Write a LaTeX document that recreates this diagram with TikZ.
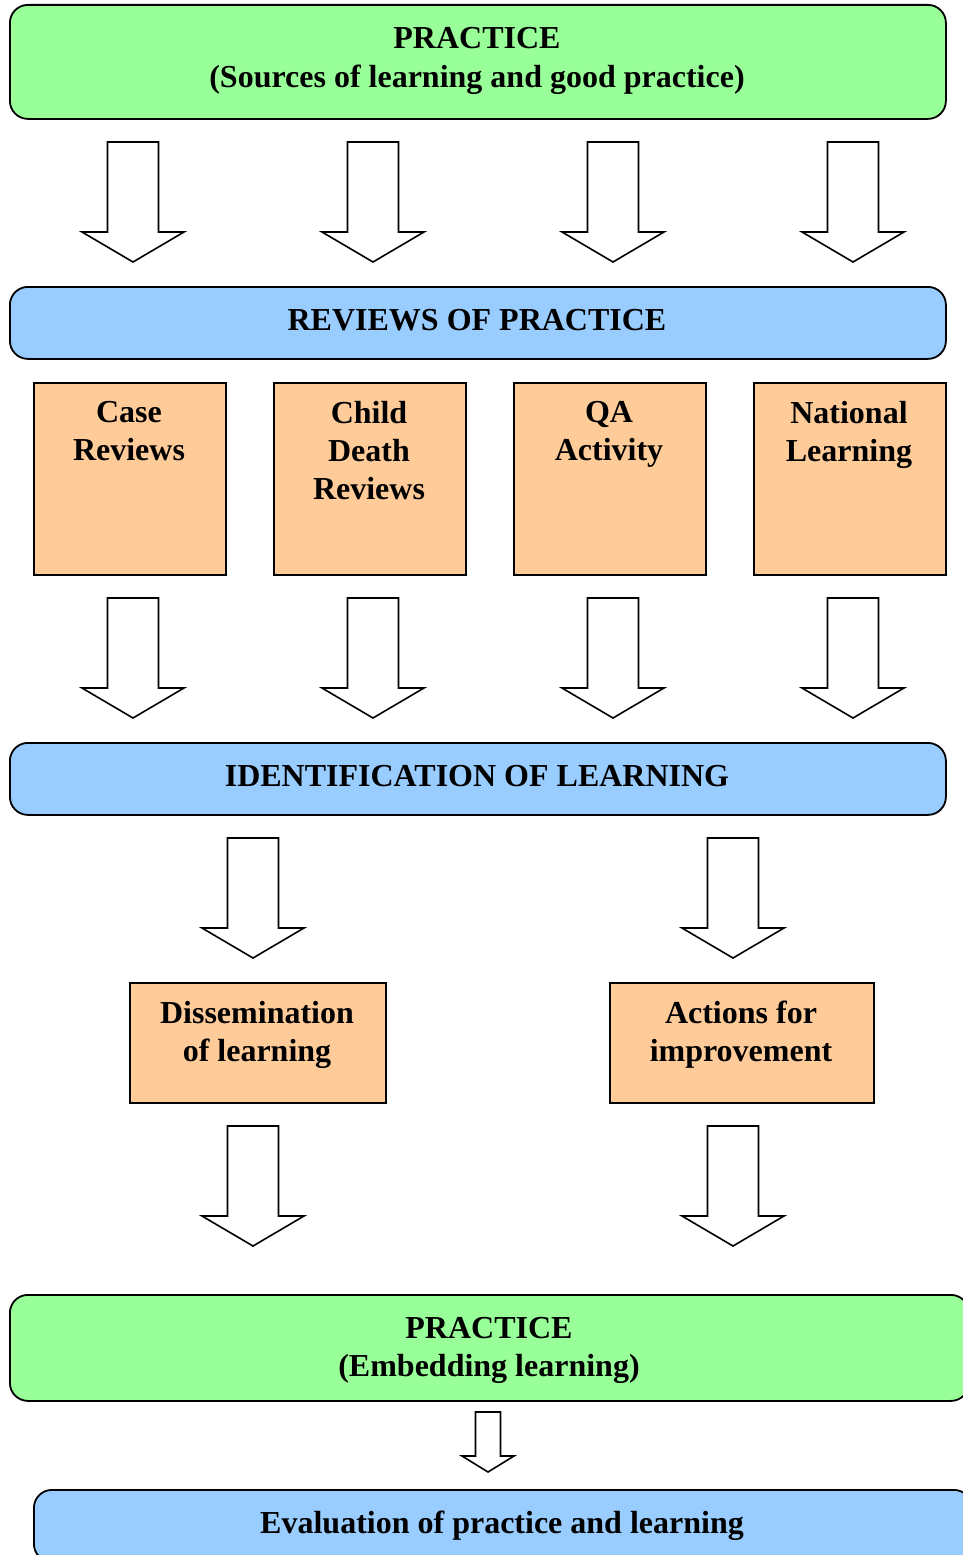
\documentclass[tikz,border=0pt]{standalone}
\usepackage{fontspec}
\setmainfont{Liberation Serif}
\definecolor{pgreen}{HTML}{99FF99}
\definecolor{pblue}{HTML}{99CCFF}
\definecolor{porange}{HTML}{FFCC99}
\tikzset{
  rbox/.style={draw=black, line width=1.8pt, rounded corners=18pt, anchor=north west, inner sep=0pt},
  sbox/.style={draw=black, line width=1.6pt, fill=porange, anchor=north west, inner sep=0pt},
  lbl/.style={font=\bfseries\fontsize{32}{38}\selectfont, align=center, inner sep=0pt},
  barrow/.style={draw=black, line width=1.6pt, fill=white, line join=miter},
}
% block arrow: #1 centre x, #2 top y
\newcommand\bigarrow[2]{%
  \draw[barrow] (#1-25.5,#2) -- ++(51,0) -- ++(0,90) -- ++(25.5,0) -- (#1,#2+120)
    -- (#1-51,#2+90) -- ++(25.5,0) -- cycle;}
\begin{document}
\begin{tikzpicture}[x=1pt,y=-1pt]
\useasboundingbox (0,0) rectangle (962,1555);
% top practice
\node[rbox, fill=pgreen, minimum width=936pt, minimum height=114pt] (p1) at (9,4) {};
\node[lbl, font=\bfseries\fontsize{32}{39}\selectfont] (p1t) at (477,61) {PRACTICE\\(Sources of learning and good practice)};
% arrows row 1
\foreach \cx in {133,373,613,853} {\bigarrow{\cx}{142}}
% reviews
\node[rbox, fill=pblue, minimum width=936pt, minimum height=72pt] (rev) at (9,286) {};
\node[lbl] (revt) at (477,320) {REVIEWS OF PRACTICE};
% four boxes
\node[sbox, minimum width=192pt, minimum height=192pt] (b1) at (33,382) {};
\node[sbox, minimum width=192pt, minimum height=192pt] (b2) at (273,382) {};
\node[sbox, minimum width=192pt, minimum height=192pt] (b3) at (513,382) {};
\node[sbox, minimum width=192pt, minimum height=192pt] (b4) at (753,382) {};
\node[lbl, anchor=north] (b1t) at (129,401) {Case\\Reviews};
\node[lbl, anchor=north] (b2t) at (369,401) {Child\\Death\\Reviews};
\node[lbl, anchor=north] (b3t) at (609,401) {QA\\Activity};
\node[lbl, anchor=north] (b4t) at (849,401) {National\\Learning};
% arrows row 2
\foreach \cx in {133,373,613,853} {\bigarrow{\cx}{598}}
% identification
\node[rbox, fill=pblue, minimum width=936pt, minimum height=72pt] (idl) at (9,742) {};
\node[lbl] (idlt) at (477,776) {IDENTIFICATION OF LEARNING};
% arrows row 3
\foreach \cx in {253,733} {\bigarrow{\cx}{838}}
% dissemination / actions
\node[sbox, minimum width=256pt, minimum height=120pt] (dis) at (129,982) {};
\node[sbox, minimum width=264pt, minimum height=120pt] (act) at (609,982) {};
\node[lbl] (dist) at (257,1035) {Dissemination\\of learning};
\node[lbl] (actt) at (741,1035) {Actions for\\improvement};
% arrows row 4
\foreach \cx in {253,733} {\bigarrow{\cx}{1126}}
% bottom practice
\node[rbox, fill=pgreen, minimum width=959pt, minimum height=106pt] (p2) at (9,1294) {};
\node[lbl] (p2t) at (489,1350) {PRACTICE\\(Embedding learning)};
% small arrow
\draw[barrow] (475.5,1412) -- (500.5,1412) -- (500.5,1456) -- (514,1456) -- (488,1472)
  -- (462,1456) -- (475.5,1456) -- cycle;
% evaluation
\node[rbox, fill=pblue, minimum width=938pt, minimum height=72pt] (ev) at (33,1489) {};
\node[lbl] (evt) at (502,1526) {Evaluation of practice and learning};
\end{tikzpicture}
\end{document}
